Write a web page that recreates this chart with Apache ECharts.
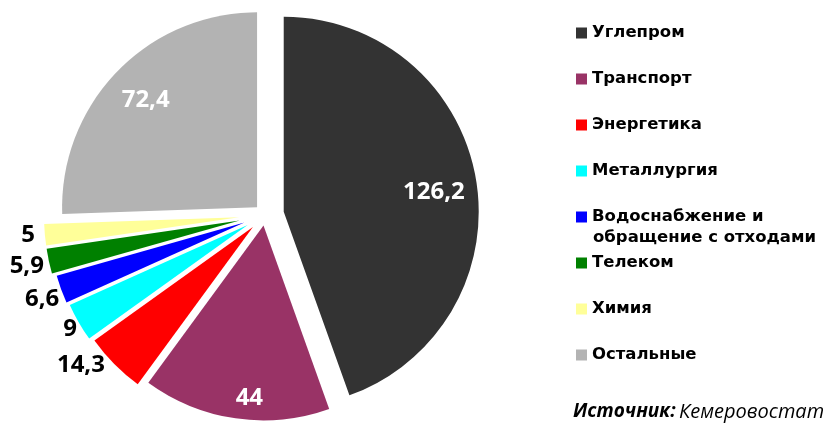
<!DOCTYPE html>
<html>
<head>
<meta charset="utf-8">
<script src="https://cdn.jsdelivr.net/npm/echarts@6/dist/echarts.min.js"></script>
<style>
  html, body { margin: 0; padding: 0; background: #fff; }
  #main { width: 823px; height: 431px; }
</style>
</head>
<body>
<div id="main"></div>
<script>
"use strict";

// sectors
var names = [
  "Углепром",
  "Транспорт",
  "Энергетика",
  "Металлургия",
  "Водоснабжение и обращение с отходами",
  "Телеком",
  "Химия",
  "Остальные",
];
var values = [126.2, 44, 14.3, 9, 6.6, 5.9, 5, 72.4];
var labels = ["126,2", "44", "14,3", "9", "6,6", "5,9", "5", "72,4"];

// styling
var colors = ["#333333", "#993366", "#ff0000", "#00ffff", "#0000ff", "#008000", "#ffff99", "#b3b3b3"];
var explode = [19, 10.5, 17, 20, 22, 26, 26, 11];
var insideLabel = [true, true, false, false, false, false, false, true];
// small nudges of the value labels, px
var labelDx = [0, 9, 0, 8, 8, 5, 0, 4];
var labelDy = [6, 13, 0, 6, 9, 5, 0, 4];
var legendTop = [33, 79, 125, 171, 217, 263, 309, 355];

var chartDom = document.getElementById("main");
var myChart = echarts.init(chartDom);

var center = [265, 215];
var radius = 195;

function valueLabel(p) {
  return "{v|" + labels[p.dataIndex] + "}";
}

function nudge(i, inside) {
  return {
    v: { padding: [labelDy[i] * 2, 0, 0, inside ? labelDx[i] * 2 : 0] },
  };
}

var labelFont = {
  fontFamily: "Open Sans",
  fontWeight: "bold",
  fontSize: 24,
};

// one pie per slice, so every slice can be pulled out by its own distance
var series = names.map(function (n, k) {
  return {
    type: "pie",
    center: center,
    radius: [0, radius],
    startAngle: 90,
    clockwise: true,
    selectedMode: "multiple",
    selectedOffset: explode[k],
    avoidLabelOverlap: false,
    emphasis: { disabled: true },
    labelLayout: { hideOverlap: false },
    label: Object.assign(
      { position: "outside", color: "#000", formatter: valueLabel },
      labelFont
    ),
    labelLine: { show: false, length: 2, length2: 3 },
    data: names.map(function (m, i) {
      var own = i === k && !insideLabel[i];
      return {
        name: m,
        value: values[i],
        selected: i === k,
        itemStyle: { color: i === k ? colors[i] : "rgba(0,0,0,0)", borderWidth: 0 },
        label: { show: own, rich: nudge(i, false) },
        labelLine: { show: false, length: 2, length2: 3 - labelDx[i] },
      };
    }),
  };
});

// white values inside the big slices
series.push({
  type: "pie",
  silent: true,
  center: center,
  radius: [142, radius],
  startAngle: 90,
  clockwise: true,
  emphasis: { disabled: true },
  label: Object.assign(
    { position: "inside", color: "#fff", formatter: valueLabel },
    labelFont
  ),
  labelLine: { show: false },
  data: names.map(function (m, i) {
    return {
      name: m,
      value: values[i],
      itemStyle: { color: "rgba(0,0,0,0)", borderWidth: 0 },
      label: { show: insideLabel[i], rich: nudge(i, true) },
    };
  }),
});

var legends = names.map(function (n, i) {
  return {
    data: [{ name: n, itemStyle: { color: colors[i], borderWidth: 0 } }],
    orient: "vertical",
    left: 576,
    top: legendTop[i] - 10,
    padding: 0,
    icon: "rect",
    itemWidth: 11,
    itemHeight: 11,
    selectedMode: false,
    formatter: function (name) {
      return name === names[4] ? "Водоснабжение и" : name;
    },
    textStyle: {
      fontFamily: "DejaVu Sans",
      fontWeight: "bold",
      fontSize: 16.5,
      lineHeight: 20,
      color: "#000",
    },
  };
});

var option = {
  animation: false,
  legend: legends,
  graphic: [
    {
      type: "text",
      x: 593,
      y: 238,
      style: {
        text: "обращение с отходами",
        font: "bold 16.5px 'DejaVu Sans'",
        verticalAlign: "middle",
        fill: "#000",
      },
    },
    {
      type: "text",
      x: 573,
      y: 412,
      style: {
        text: "{b|Источник:} {n|Кемеровостат}",
        verticalAlign: "middle",
        rich: {
          b: { fontFamily: "Open Sans", fontStyle: "italic", fontWeight: "bold", fontSize: 19, fill: "#000" },
          n: { fontFamily: "Open Sans", fontStyle: "italic", fontSize: 20, fill: "#000" },
        },
      },
    },
  ],
  series: series,
};

option && myChart.setOption(option);
</script>
</body>
</html>
